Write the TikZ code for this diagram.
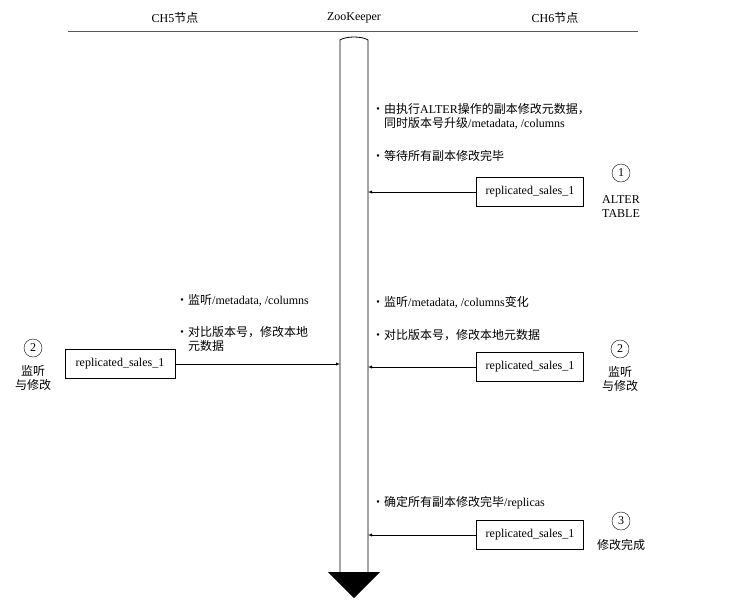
\documentclass[tikz,border=0pt]{standalone}
\usepackage{fontspec}
\setmainfont{Liberation Serif}
\newfontfamily\cjk{Noto Sans CJK SC}
\newcommand{\zh}[1]{{\cjk #1}}
\begin{document}
\begin{tikzpicture}[x=1pt,y=-1pt,font=\fontsize{12}{14}\selectfont,
  rbox/.style={draw,thick,minimum width=107,minimum height=29,inner sep=0},
  num/.style={draw,circle,inner sep=1.5,minimum size=18},
  txt/.style={anchor=west,align=left,inner sep=0},
  lbl/.style={align=center,inner sep=0},
  arr/.style={-latex,thin}]
\useasboundingbox (0,0) rectangle (752,614);
\node at (175,18) {CH5\zh{节点}};
\node at (354,18) {ZooKeeper};
\node at (555,18) {CH6\zh{节点}};
\draw[thick,gray!70!black] (68,31) -- (638,31);
% column
\draw[thick] (340,572) -- (340,40) .. controls (346,36) and (362,36) .. (368,40) -- (368,572);
\coordinate (zk) at (354,300);
\fill (328,572) -- (380,572) -- (354,598) -- cycle;
% right boxes
\node[rbox] (b1) at (530,192) {replicated\_sales\_1};
\node[rbox] (b2) at (530,367) {replicated\_sales\_1};
\node[rbox] (b3) at (530,535) {replicated\_sales\_1};
\node[rbox,minimum width=110] (b0) at (120,364) {replicated\_sales\_1};
\coordinate (c1) at (368,192);
\coordinate (c2) at (368,367);
\coordinate (c3) at (368,535);
\coordinate (c0) at (340,364);
\draw[arr] (b1) -- (c1);
\draw[arr] (b2) -- (c2);
\draw[arr] (b3) -- (c3);
\draw[arr] (b0) -- (c0);
% labels
\node[num] (n1) at (621,173) {1};
\node[lbl] at (621,207) {ALTER\\TABLE};
\node[num] (n2) at (620,349) {2};
\node[lbl] at (620,379) {\zh{监听}\\\zh{与修改}};
\node[num] (n3) at (621,521) {3};
\node[lbl] at (621,545) {\zh{修改完成}};
\node[num] (n4) at (33,348) {2};
\node[lbl] at (33,378) {\zh{监听}\\\zh{与修改}};
% texts
\node[txt] at (372,116) {\zh{・由执行}ALTER\zh{操作的副本修改元数据，}\\\hspace{12pt}\zh{同时版本号升级}/metadata, /columns};
\node[txt] at (372,156) {\zh{・等待所有副本修改完毕}};
\node[txt] at (372,302) {\zh{・监听}/metadata, /columns\zh{变化}};
\node[txt] at (372,335) {\zh{・对比版本号，修改本地元数据}};
\node[txt] at (372,503) {\zh{・确定所有副本修改完毕}/replicas};
\node[txt] at (176,300) {\zh{・监听}/metadata, /columns};
\node[txt] at (176,339) {\zh{・对比版本号，修改本地}\\\hspace{12pt}\zh{元数据}};
\end{tikzpicture}
\end{document}
